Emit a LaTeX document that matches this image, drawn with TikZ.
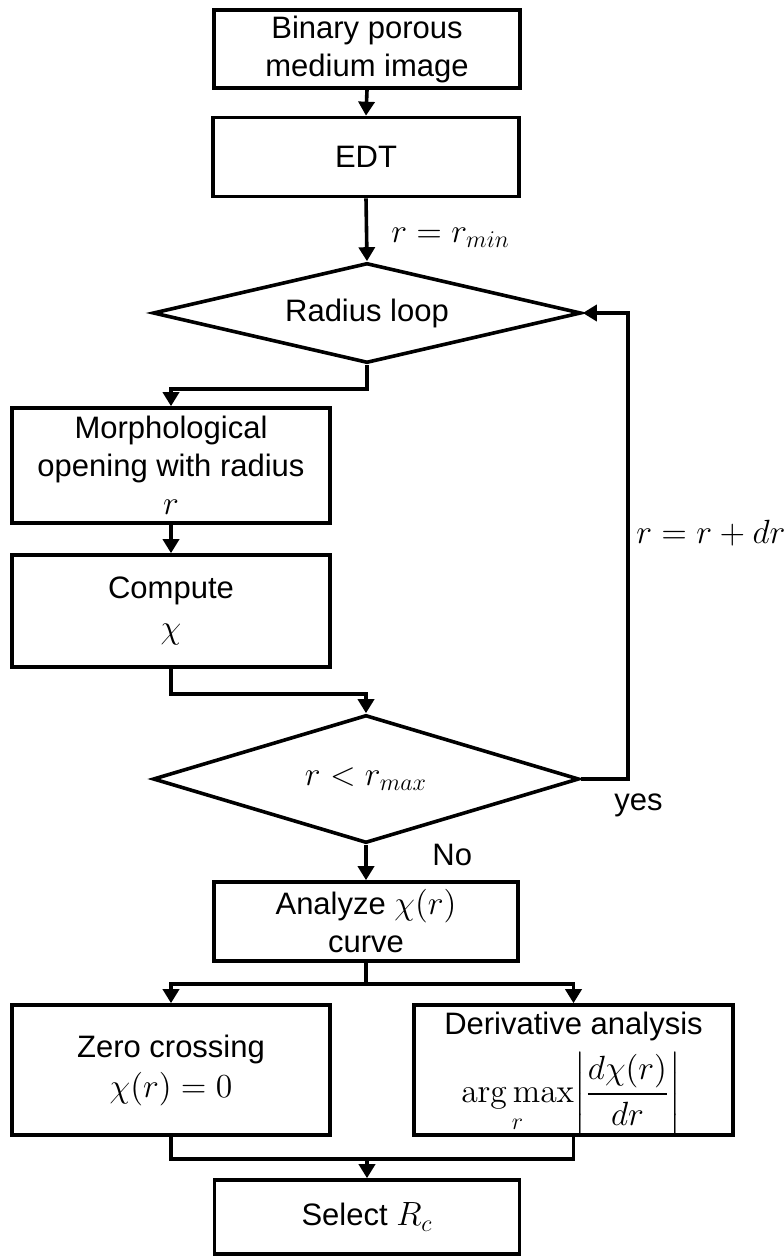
\RequirePackage{fix-cm}
\documentclass[tikz,border=0pt]{standalone}
\usepackage{amsmath}
\usepackage[no-math]{fontspec}
\setmainfont{Liberation Sans}
\DeclareMathSizes{15.5}{16.8}{12}{9}
\usetikzlibrary{shapes.geometric,arrows.meta}
\begin{document}
\begin{tikzpicture}[x=0.5pt,y=-0.5pt,
  font=\fontsize{15.5}{19}\selectfont,
  box/.style={draw,line width=1.8pt,rectangle,align=center,inner sep=0pt},
  dia/.style={draw,line width=1.8pt,diamond,aspect=4,inner sep=0pt},
  con/.style={line width=1.8pt},
  arr/.style={line width=1.8pt,-{Triangle[length=7pt,width=8pt]}},
  lbl/.style={inner sep=0pt}]
\useasboundingbox (0,0) rectangle (783,1256);
\node[box,minimum width=153pt,minimum height=39pt] (b1) at (367,49) {Binary porous\\medium image};
\node[box,minimum width=153pt,minimum height=39.5pt] (b2) at (366,157) {EDT};
\node[dia,minimum width=214pt,minimum height=50pt] (d1) at (367,313) {Radius loop};
\node[box,minimum width=159pt,minimum height=57.5pt] (b3) at (171,465.5) {Morphological\\opening with radius\\$r$};
\node[box,minimum width=159pt,minimum height=56pt] (b4) at (171,611) {Compute\\[1pt]$\chi$};
\node[dia,minimum width=213pt,minimum height=64pt] (d2) at (366,779) {$r<r_{max}$};
\node[box,minimum width=152pt,minimum height=39.5pt] (b5) at (366,921.5) {Analyze $\chi(r)$\\curve};
\node[box,minimum width=159pt,minimum height=65pt] (b6) at (171,1070) {Zero crossing\\[1pt]$\chi(r)=0$};
\node[box,minimum width=159.5pt,minimum height=65pt] (b7) at (573.5,1070) {};
\node[lbl] (t7a) at (573.5,1026) {Derivative analysis};
\node[lbl] (t7b) at (571,1094) {$\displaystyle\operatorname*{arg\,max}_{r}\biggl|\frac{d\chi(r)}{dr}\biggr|$};
\node[box,minimum width=152.5pt,minimum height=37pt] (b8) at (367,1217) {Select $R_c$};

\draw[arr] (b1.south) -- (b2.north);
\draw[arr] (b2.south) -- (d1.north);
\node[lbl,anchor=west] (l1) at (391,238) {$r=r_{min}$};
\draw[arr] (d1.south) -- ++(0,24) -| (b3.north);
\draw[arr] (b3.south) -- (b4.north);
\draw[arr] (b4.south) -- ++(0,25) -| (d2.north);
\draw[arr] (d2.east) -- ++(47,0) |- (d1.east);
\node[lbl,anchor=west] (l2) at (636,533) {$r=r+dr$};
\node[lbl,anchor=west] (l3) at (614,805) {yes};
\draw[arr] (d2.south) -- (b5.north);
\node[lbl,anchor=west] (l4) at (432,855) {No};
\draw[con] (b5.south) -- ++(0,21) coordinate (s1);
\draw[arr] (s1) -| (b6.north);
\draw[arr] (s1) -| (b7.north);
\draw[con] (b6.south) -- ++(0,22) coordinate (m1) -| (b7.south);
\draw[arr] (m1 -| b8.north) -- (b8.north);
\end{tikzpicture}
\end{document}
